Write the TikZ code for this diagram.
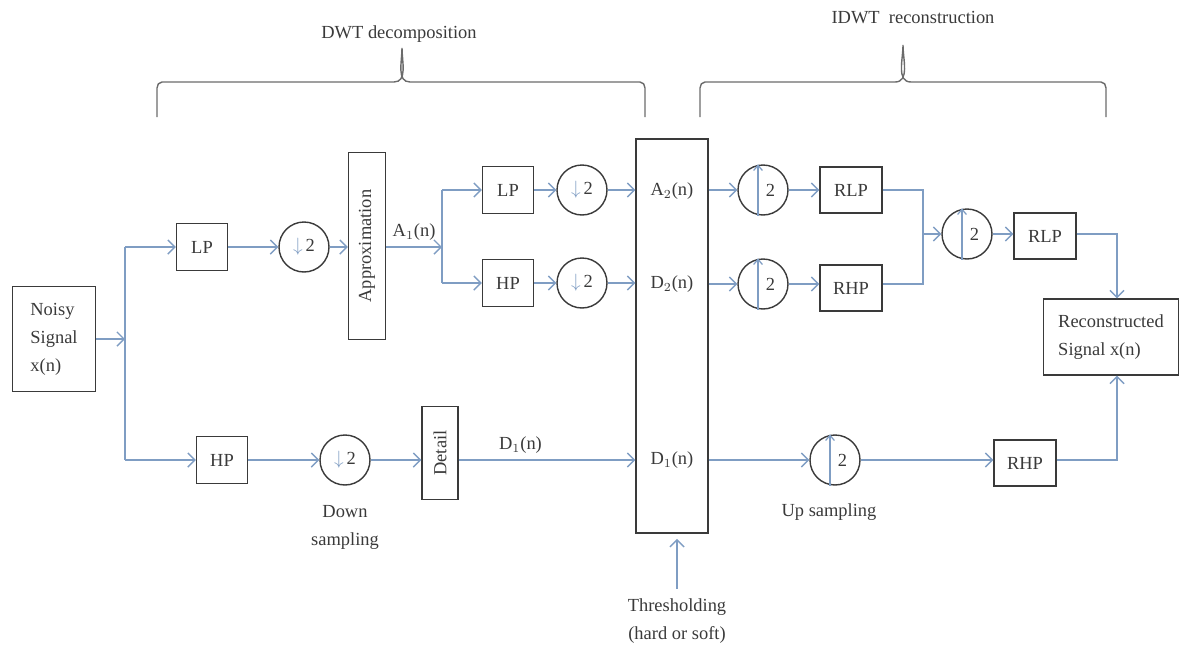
\documentclass[tikz,border=0pt]{standalone}
\usepackage{fontspec}
\setmainfont{Liberation Serif}
\usetikzlibrary{arrows.meta,calc}
\definecolor{lineblue}{HTML}{7F9DC3}
\definecolor{boxgrey}{HTML}{3A3A3A}

\begin{document}
\begin{tikzpicture}[
    x=0.02cm, y=-0.02cm,
    every node/.style={font=\fontsize{10.5}{16}\selectfont, text=boxgrey},
    blk/.style={draw=boxgrey, line width=0.8pt, minimum width=1.02cm, minimum height=0.94cm, inner sep=1pt},
    rblk/.style={blk, minimum width=1.24cm, minimum height=0.92cm},
    smp/.style={circle, draw=boxgrey, line width=0.8pt, minimum size=1cm, inner sep=0pt},
    arr/.style={draw=lineblue, line width=0.8pt, -{Straight Barb[length=4pt,width=8pt]}},
    wire/.style={draw=lineblue, line width=0.8pt},
    upar/.style={draw=lineblue, line width=0.7pt, -{Straight Barb[length=3pt,width=5pt]}},
    brace/.style={draw=boxgrey!75, line width=0.8pt}
]
\useasboundingbox (0,0) rectangle (1187,650);

% braces
\draw[brace] (157,117) -- (157,88) to[out=90,in=180] (162,82) -- (394,82) to[out=0,in=-90] (402,48)
    to[out=-90,in=180] (410,82) -- (640,82) to[out=0,in=90] (645,88) -- (645,117);
\node (dwt) at (399,34) {DWT decomposition};
\draw[brace] (700,117) -- (700,88) to[out=90,in=180] (705,82) -- (895,82) to[out=0,in=-90] (903,45)
    to[out=-90,in=180] (911,82) -- (1101,82) to[out=0,in=90] (1106,88) -- (1106,117);
\node (idwt) at (913,18) {IDWT~~reconstruction};

% Decomposition
\node[blk, minimum width=1.66cm, minimum height=2.1cm, align=left] (noisy) at (54,339) {Noisy\\Signal\\x(n)};
\coordinate (bus1) at (125,339);
\node[blk] (lp1) at (202,247) {LP};
\node[blk] (hp1) at (222,460) {HP};
\node[smp] (ds1) at (304,247) {\textcolor{lineblue}{$\downarrow$}\,2};
\node[smp] (ds4) at (345,460) {\textcolor{lineblue}{$\downarrow$}\,2};
\node[blk, rotate=90, minimum width=3.74cm, minimum height=0.74cm] (appr) at (367,246) {Approximation};
\node[blk, rotate=90, minimum width=1.86cm, minimum height=0.72cm] (det) at (440,453) {Detail};
\node[align=center] (dsmp) at (345,527) {Down\\sampling};

\coordinate (bus2) at (442,247);
\node[blk] (lp2) at (508,190) {LP};
\node[blk] (hp2) at (508,283) {HP};
\node[smp] (ds2) at (582,190) {\textcolor{lineblue}{$\downarrow$}\,2};
\node[smp] (ds3) at (582,283) {\textcolor{lineblue}{$\downarrow$}\,2};

% Thresholding
\node[blk, minimum width=1.44cm, minimum height=7.88cm] (thr) at (672,336) {};
\node (a2) at (672,191) {A$_2$(n)};
\node (d2) at (672,284) {D$_2$(n)};
\node (d1) at (672,460) {D$_1$(n)};
\node[align=center] (thl) at (677,621) {Thresholding\\(hard or soft)};

% Reconstruction
\node[smp] (us1) at (763,190) {\hspace*{0.3cm}2};
\node[smp] (us2) at (763,284) {\hspace*{0.3cm}2};
\node[smp] (us3) at (967,234) {\hspace*{0.3cm}2};
\node[smp] (us4) at (835,460) {\hspace*{0.3cm}2};
\node[rblk] (rlp1) at (851,190) {RLP};
\node[rblk] (rhp1) at (851,288) {RHP};
\node[rblk] (rlp3) at (1045,236) {RLP};
\node[rblk] (rhp3) at (1025,463) {RHP};
\node[blk, minimum width=2.7cm, minimum height=1.52cm, align=left] (recon) at (1111,337) {Reconstructed\\Signal x(n)};
\node (usmp) at (829,512) {Up sampling};
\coordinate (mrg) at (923,234);
\coordinate (out) at (1117,300);

\foreach \u in {us1,us2,us3,us4}
    \draw[upar] ([xshift=-0.1cm]\u.south) -- ([xshift=-0.1cm]\u.north);

% connectors
\draw[arr] (noisy.east) -- (bus1);
\draw[wire] (bus1 |- lp1) -- (bus1 |- hp1);
\draw[arr] (bus1 |- lp1) -- (lp1.west);
\draw[arr] (bus1 |- hp1) -- (hp1.west);
\draw[arr] (lp1) -- (ds1);
\draw[arr] (ds1) -- (ds1.east -| appr.north);
\draw[arr] (hp1) -- (ds4);
\draw[arr] (ds4) -- (ds4.east -| det.north);
\draw[arr] (appr.south |- bus2) -- (bus2) node[midway, above] {A$_1$(n)};
\draw[wire] (bus2 |- lp2) -- (bus2 |- hp2);
\draw[arr] (bus2 |- lp2) -- (lp2.west);
\draw[arr] (bus2 |- hp2) -- (hp2.west);
\draw[arr] (lp2) -- (ds2);
\draw[arr] (hp2) -- (ds3);
\draw[arr] (ds2) -- (ds2.east -| thr.west);
\draw[arr] (ds3) -- (ds3.east -| thr.west);
\draw[arr] (det.south |- d1) -- (thr.west |- d1) node[pos=0.35, above] {D$_1$(n)};
\draw[arr, shorten >=3pt] ([yshift=2pt]thl.north) -- (thl.north |- thr.south);

\draw[arr] (thr.east |- us1) -- (us1);
\draw[arr] (thr.east |- us2) -- (us2);
\draw[arr] (thr.east |- us4) -- (us4);
\draw[arr] (us1) -- (us1.east -| rlp1.west);
\draw[arr] (us2) -- (us2.east -| rhp1.west);
\draw[arr] (us4) -- (us4.east -| rhp3.west);
\draw[wire] (rlp1.east |- us1) -| (mrg) |- (rhp1.east |- us2);
\draw[arr] (mrg) -- (us3);
\draw[arr] (us3) -- (us3.east -| rlp3.west);
\draw[arr] (rlp3.east |- us3) -| (recon.north -| out);
\draw[arr] (rhp3.east |- us4) -| (recon.south -| out);
\end{tikzpicture}
\end{document}
